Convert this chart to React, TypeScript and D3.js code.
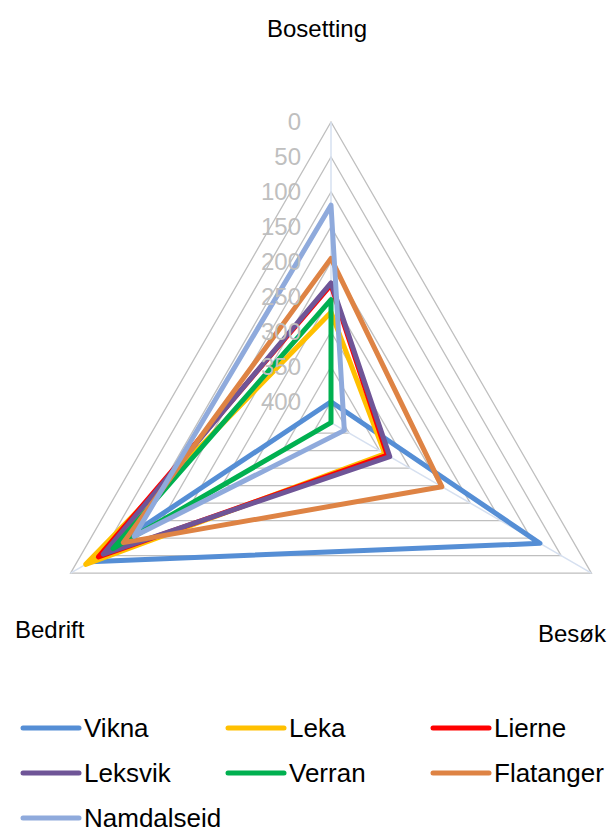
import React from 'react';
import * as d3 from 'd3';

const axisNames = ['Bosetting', 'Besøk', 'Bedrift'];
const seriesNames = ['Vikna', 'Leka', 'Lierne', 'Leksvik', 'Verran', 'Flatanger', 'Namdalseid'];
const vikna = [400, 85, 32];
const leka = [272, 341, 25];
const lierne = [233, 337, 46];
const leksvik = [230, 333, 54];
const verran = [254, 430, 70];
const flatanger = [195, 247, 87];
const namdalseid = [119, 408, 105];
const seriesValues = [vikna, leka, lierne, leksvik, verran, flatanger, namdalseid];
const seriesColors = ['#558ED5', '#FFC000', '#FF0000', '#6F5597', '#00B050', '#DE8344', '#8FAADC'];
const tickValues = [0, 50, 100, 150, 200, 250, 300, 350, 400];
const axisMax = 430;

const W = 614;
const H = 829;
const cx = 331;
const cy = 422.7;
const R = 300.7;
const FONT = '"Liberation Sans", Arial, Helvetica, sans-serif';

export default function App() {
  const r = d3.scaleLinear().domain([axisMax, 0]).range([0, R]);
  const angle = d3.scaleLinear().domain([0, axisNames.length]).range([0, 2 * Math.PI]);
  const radial = d3
    .lineRadial<number>()
    .angle((_d, i) => angle(i))
    .radius((d) => r(d))
    .curve(d3.curveLinearClosed);

  const ringPath = (v: number) => radial(axisNames.map(() => v)) as string;

  const spokeEnd = (i: number) => {
    const a = angle(i) - Math.PI / 2;
    return [Math.cos(a) * R, Math.sin(a) * R];
  };

  const legendCols = [23, 228, 433];
  const legendRows = [728, 773, 818];

  return (
    <svg
      width={W}
      height={H}
      style={{ position: 'absolute', left: 0, top: 0, background: '#fff' }}
      fontFamily={FONT}
    >
      <rect x={0} y={0} width={W} height={H} fill="#fff" />
      <g transform={`translate(${cx},${cy})`}>
        {tickValues.map((t) => (
          <path key={t} d={ringPath(t)} fill="none" stroke="#BFBFBF" strokeWidth={1.3} />
        ))}
        {axisNames.map((_a, i) => {
          const [x, y] = spokeEnd(i);
          return <line key={i} x1={0} y1={0} x2={x} y2={y} stroke="#D6E0F0" strokeWidth={1.5} />;
        })}
        {seriesValues.map((vals, i) => (
          <path
            key={seriesNames[i]}
            d={radial(vals) as string}
            fill="none"
            stroke={seriesColors[i]}
            strokeWidth={5}
            strokeLinejoin="round"
          />
        ))}
        {tickValues.map((t) => (
          <text
            key={'t' + t}
            x={-30}
            y={-r(t)}
            dy="0.35em"
            textAnchor="end"
            fontSize={24}
            fill="#BFBFBF"
          >
            {t}
          </text>
        ))}
      </g>
      <text x={317} y={37} textAnchor="middle" fontSize={24} fill="#000">
        {axisNames[0]}
      </text>
      <text x={538} y={642} fontSize={24} fill="#000">
        {axisNames[1]}
      </text>
      <text x={15} y={638} fontSize={24} fill="#000">
        {axisNames[2]}
      </text>
      {seriesNames.map((name, i) => {
        const col = i % 3;
        const row = Math.floor(i / 3);
        const x = legendCols[col];
        const y = legendRows[row];
        return (
          <g key={'lg' + name}>
            <line
              x1={x}
              y1={y}
              x2={x + 56}
              y2={y}
              stroke={seriesColors[i]}
              strokeWidth={5}
              strokeLinecap="round"
            />
            <text x={x + 61} y={y + 9} fontSize={26} fill="#000">
              {name}
            </text>
          </g>
        );
      })}
    </svg>
  );
}
